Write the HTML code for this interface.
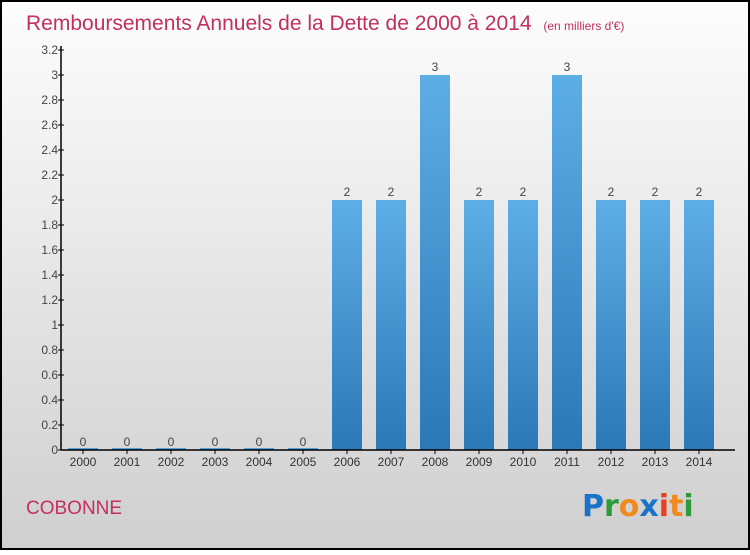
<!DOCTYPE html>
<html><head><meta charset="utf-8">
<style>
html,body{margin:0;padding:0;}
body{width:750px;height:550px;overflow:hidden;font-family:"Liberation Sans",sans-serif;}
</style></head>
<body>
<svg id="chart" width="750" height="550" xmlns="http://www.w3.org/2000/svg">
<defs>
<linearGradient id="bg" x1="0" y1="0" x2="0" y2="1">
<stop offset="0" stop-color="#fdfdfd"/><stop offset="1" stop-color="#cfcfcf"/>
</linearGradient>
<linearGradient id="bar" x1="0" y1="0" x2="0" y2="1">
<stop offset="0" stop-color="#5eaee6"/><stop offset="1" stop-color="#2a78b6"/>
</linearGradient>
</defs>
<rect x="1" y="1" width="748" height="548" fill="url(#bg)" stroke="#000" stroke-width="2"/>
<text x="26" y="30" font-size="21" fill="#c2305e">Remboursements Annuels de la Dette de 2000 à 2014 <tspan font-size="12" dx="6">(en milliers d'€)</tspan></text>
<text x="26" y="514" font-size="19" fill="#c2305e">COBONNE</text>
<g font-size="30" font-weight="bold" font-family="'DejaVu Sans',sans-serif">
<text x="582" y="516"><tspan fill="#1a73c8">P</tspan><tspan fill="#2e9a3c">r</tspan><tspan fill="#f08a1c">o</tspan><tspan fill="#1a73c8">x</tspan><tspan fill="#e8401c">i</tspan><tspan fill="#f08a1c">t</tspan><tspan fill="#2e9a3c">i</tspan></text>
</g>
<g id="plot"></g>
</svg>
<script>
const categories=["2000","2001","2002","2003","2004","2005","2006","2007","2008","2009","2010","2011","2012","2013","2014"];
const values=[0,0,0,0,0,0,2,2,3,2,2,3,2,2,2];
const valueLabels=["0","0","0","0","0","0","2","2","3","2","2","3","2","2","2"];
const yTicks=[0,0.2,0.4,0.6,0.8,1,1.2,1.4,1.6,1.8,2,2.2,2.4,2.6,2.8,3,3.2];
const yTickLabels=["0","0.2","0.4","0.6","0.8","1","1.2","1.4","1.6","1.8","2","2.2","2.4","2.6","2.8","3","3.2"];
const NS="http://www.w3.org/2000/svg";
const g=document.getElementById('plot');
const y0=450,yTop=50,yMax=3.2,axX=61;
const y=v=>y0-(v/yMax)*(y0-yTop);
const x=i=>83+i*44;
function mk(t,a){const e=document.createElementNS(NS,t);for(const k in a)e.setAttribute(k,a[k]);g.appendChild(e);return e;}
values.forEach((v,i)=>{
  const top=y(v);
  const r=mk('rect',{x:x(i)-15,y:Math.min(top,y0-2),width:30,height:Math.max(y0-top,2),fill:'url(#bar)'});
  
  
  const t=mk('text',{x:x(i),y:top-4,'font-size':12,fill:'#444','text-anchor':'middle'});
  t.textContent=valueLabels[i];
  
  
  const xl=mk('text',{x:x(i),y:y0+16,'font-size':12,fill:'#333','text-anchor':'middle'});
  xl.textContent=categories[i];
  
  
  const tk=mk('line',{x1:x(i),x2:x(i),y1:y0,y2:y0+4,stroke:'#000'});
  
  
});
yTicks.forEach((v,i)=>{
  const tk=mk('line',{x1:axX-3,x2:axX+3,y1:y(v),y2:y(v),stroke:'#000'});
  
  
  const t=mk('text',{x:axX-3,y:y(v)+4,'font-size':12,fill:'#444','text-anchor':'end'});
  t.textContent=yTickLabels[i];
  
  
});
const ya=mk('line',{x1:axX,x2:axX,y1:yTop-4,y2:y0,stroke:'#000','stroke-width':1.5});


const xa=mk('line',{x1:axX,x2:735,y1:y0,y2:y0,stroke:'#000','stroke-width':1.5});


</script>
</body></html>
